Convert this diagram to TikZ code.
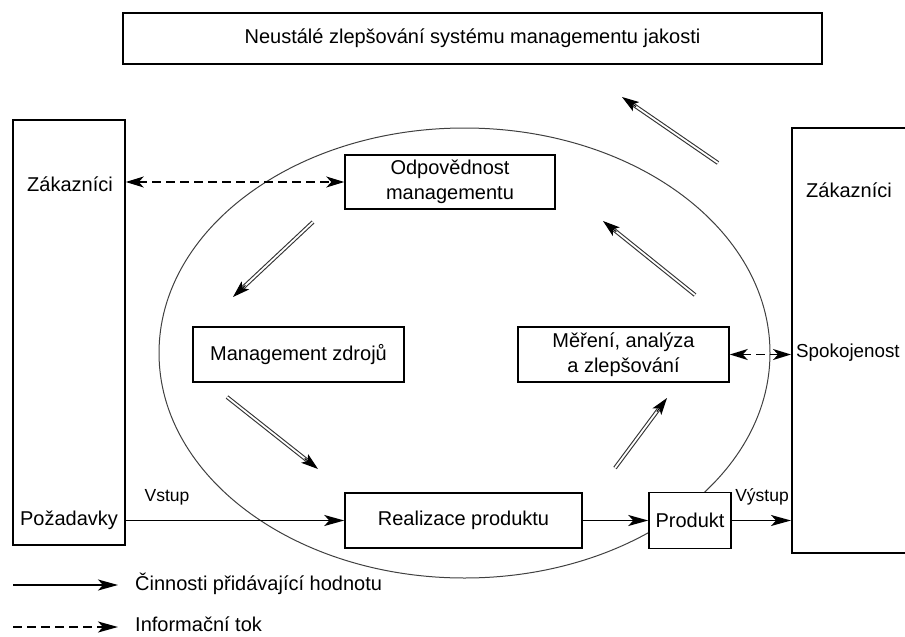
\documentclass[tikz,border=0pt]{standalone}
\usepackage{fontspec}
\setmainfont{Liberation Sans}
\usetikzlibrary{arrows.meta,calc}
\newcommand\dblarrow[2]{%
  \draw[dblshaft] (#1) -- (#2);
  \draw[dblhead] ($(#2)!17pt!(#1)$) -- (#2);}
\begin{document}
\begin{tikzpicture}[x=1pt,y=-1pt,
  box/.style={draw, line width=1.5pt, fill=white, inner sep=0pt, align=center,
    font=\fontsize{20}{24.5}\selectfont},
  sidebox/.style={draw, line width=1.5pt, inner sep=0pt},
  lbl/.style={font=\fontsize{20}{24}\selectfont, inner sep=0pt},
  small/.style={font=\fontsize{17.5}{20}\selectfont, inner sep=0pt},
  flow/.style={line width=1.5pt, -{Stealth[length=20pt,width=11pt,inset=5pt]}},
  info/.style={line width=1.5pt, dash pattern=on 9pt off 5pt,
    {Stealth[length=18pt,width=11pt,inset=5pt]}-{Stealth[length=18pt,width=11pt,inset=5pt]}},
  infoone/.style={line width=1.5pt, dash pattern=on 9pt off 5pt,
    -{Stealth[length=20pt,width=11pt,inset=5pt]}},
  dblshaft/.style={double=white, double distance=1.8pt, line width=1.1pt, black!80, shorten >=14pt},
  dblhead/.style={line width=1pt, -{Stealth[length=17pt,width=11pt,inset=4pt]}},
  ring/.style={line width=1pt, black!75}
]
\useasboundingbox (0,0) rectangle (905,637);

% ellipse
\draw[ring] (464.5,353) ellipse [x radius=305.5, y radius=225];

% top box
\node[box, minimum width=699pt, minimum height=51pt] (top) at (472.5,38.5)
  {Neustálé zlepšování systému managementu jakosti};

% side boxes
\node[sidebox, minimum width=112pt, minimum height=425pt] (L) at (69,332.5) {};
\node[lbl] (lz) at (70,184) {Zákazníci};
\node[lbl] (lp) at (69,520) {Požadavky};

\node[sidebox, anchor=north west, minimum width=140pt, minimum height=425pt] (R) at (791,127) {};
\node[lbl] (rz) at (849,190) {Zákazníci};
\node[lbl, anchor=west, font=\fontsize{18.8}{22}\selectfont] (rs) at (796,353) {Spokojenost};

% inner boxes
\node[box, minimum width=210pt, minimum height=54pt] (odp) at (450,182)
  {Odpovědnost\\managementu};
\node[box, minimum width=211pt, minimum height=55pt] (zdr) at (298.5,354.5)
  {Management zdrojů};
\node[box, minimum width=211pt, minimum height=55pt] (mer) at (623.5,354.5)
  {Měření, analýza\\a zlepšování};
\node[box, minimum width=237pt, minimum height=55pt] (real) at (463.5,520.5)
  {Realizace produktu};
\node[box, minimum width=82pt, minimum height=56pt] (prod) at (690,520.5)
  {Produkt};

% connectors
\draw[info] (L.east |- odp.west) -- (odp.west);
\draw[info] (mer.east) -- (mer.east -| R.west);
\draw[flow] (L.east |- real.west) -- (real.west);
\draw[flow] (real.east) -- (prod.west);
\draw[flow] (prod.east) -- (prod.east -| R.west);
\node[small] (vstup) at (167,497) {Vstup};
\node[small] (vystup) at (762,497) {Výstup};

% double arrows
\coordinate (a1t) at (718,163); \coordinate (a1h) at (622,97);
\coordinate (a2t) at (695,295); \coordinate (a2h) at (603,221);
\coordinate (a3t) at (313,222); \coordinate (a3h) at (233,297);
\coordinate (a4t) at (227,397); \coordinate (a4h) at (318,469);
\coordinate (a5t) at (615,468); \coordinate (a5h) at (667,398);
\dblarrow{a1t}{a1h}
\dblarrow{a2t}{a2h}
\dblarrow{a3t}{a3h}
\dblarrow{a4t}{a4h}
\dblarrow{a5t}{a5h}

% legend
\coordinate (l1s) at (13,585); \coordinate (l1e) at (118,585);
\coordinate (l2s) at (13,627); \coordinate (l2e) at (118,627);
\draw[flow] (l1s) -- (l1e);
\draw[infoone] (l2s) -- (l2e);
\node[lbl, anchor=west] (leg1) at (135,584) {Činnosti přidávající hodnotu};
\node[lbl, anchor=west] (leg2) at (135,624) {Informační tok};
\end{tikzpicture}
\end{document}
